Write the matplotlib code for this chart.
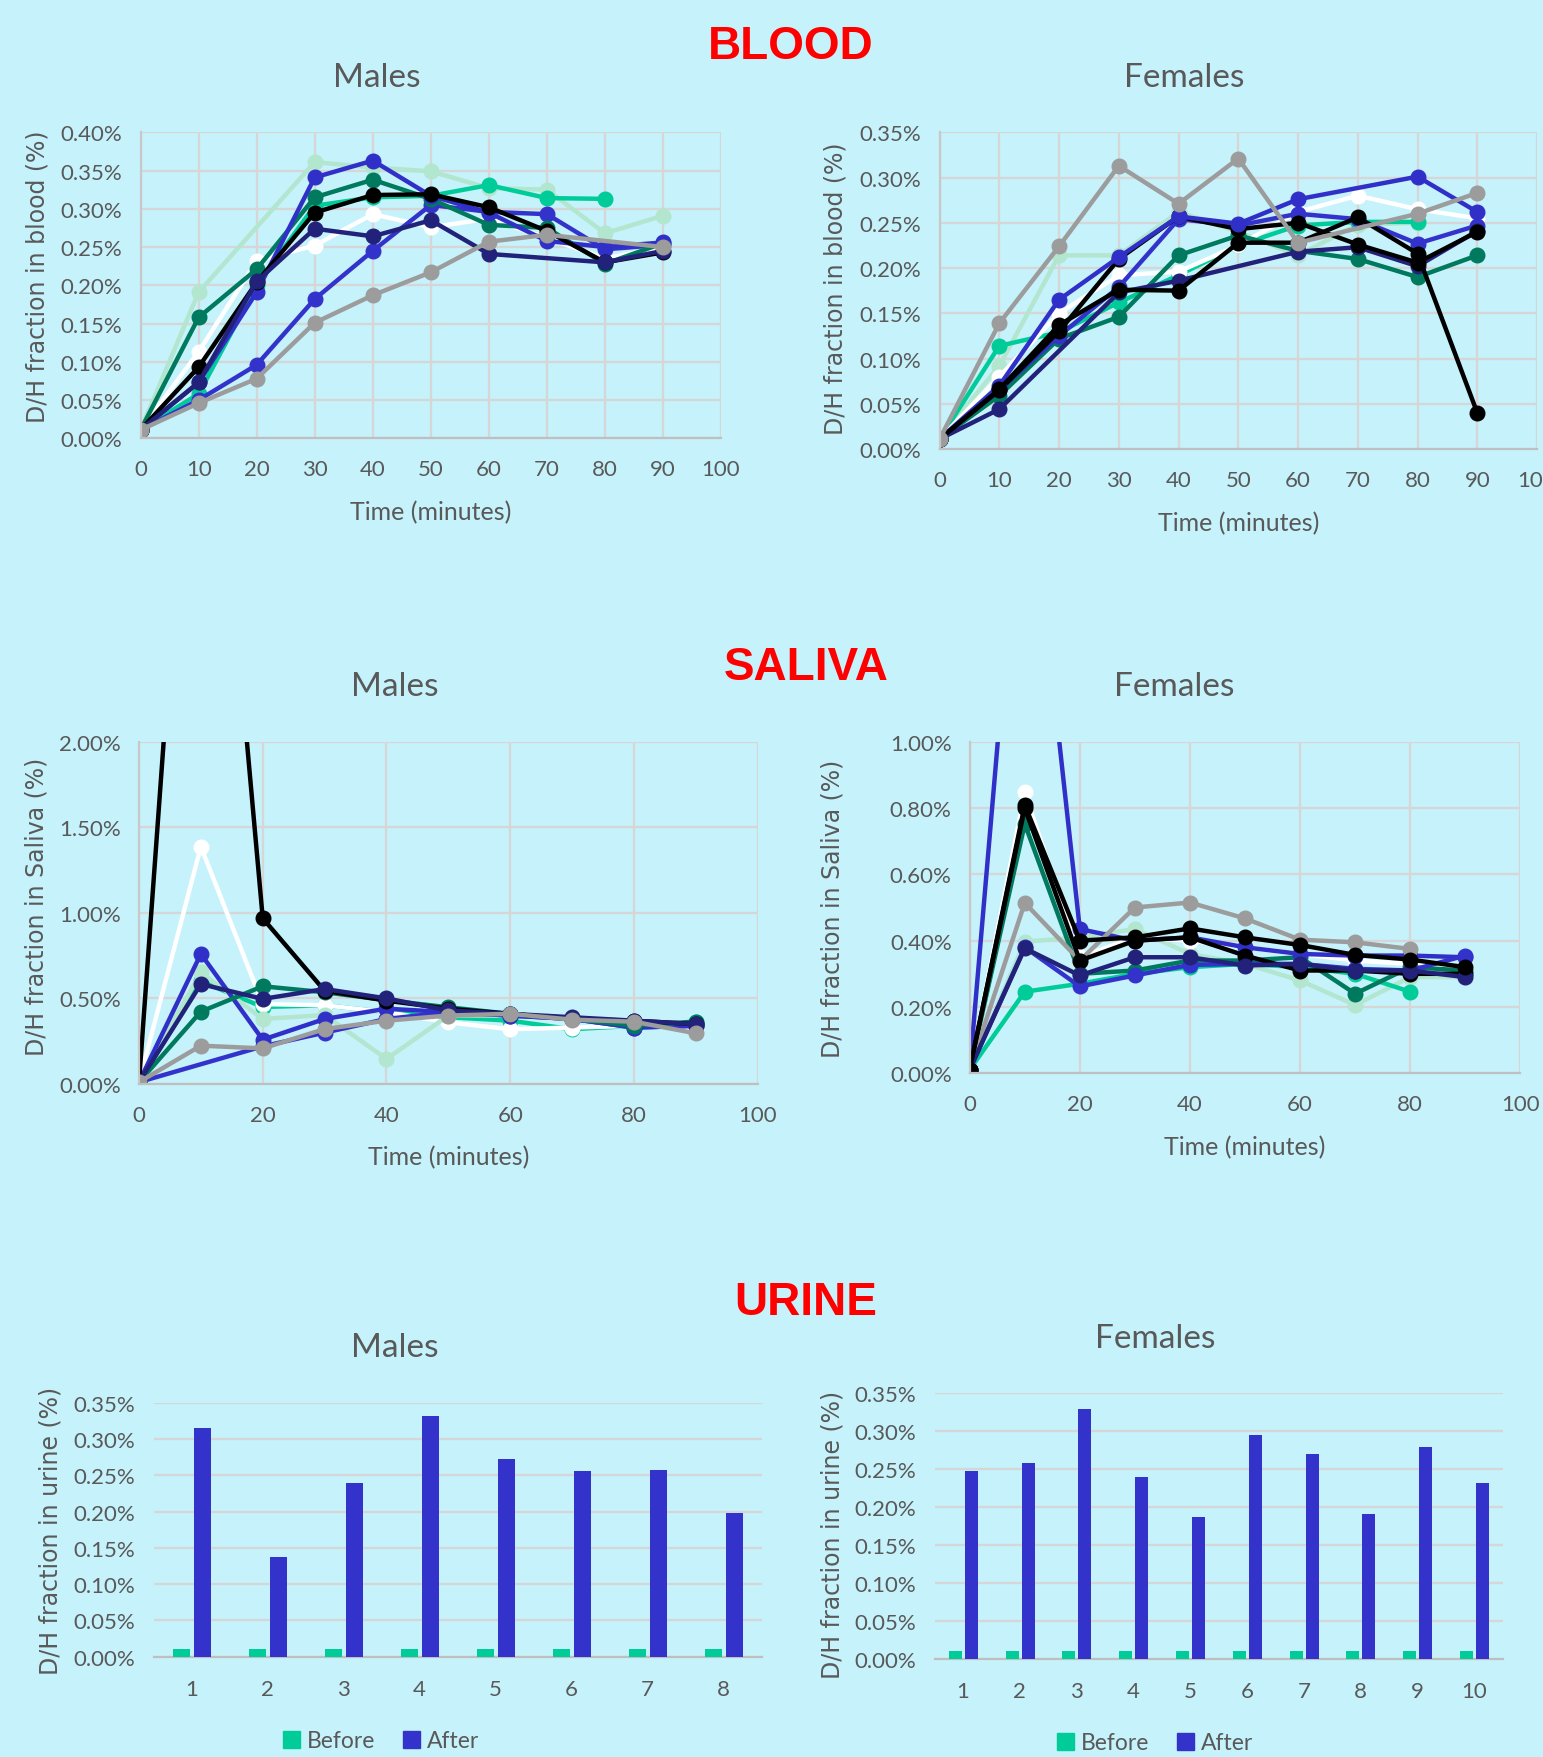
import numpy as np
import matplotlib
matplotlib.use("Agg")
import matplotlib.pyplot as plt
from matplotlib.ticker import FuncFormatter, MultipleLocator
from matplotlib.patches import Patch

# time points (minutes)
times = [0, 10, 20, 30, 40, 50, 60, 70, 80, 90]
nan = np.nan

# colours used by the subjects
c_mint = "#B2E6CF"
c_teal = "#00CC99"
c_dkgreen = "#007A5E"
c_white = "#FFFFFF"
c_blue = "#3030C8"
c_blue2 = "#3333CC"
c_navy = "#22227A"
c_black = "#000000"
c_gray = "#9C9C9C"

# blood - males (D/H %)
bm_mint = [0.011, 0.191, nan, 0.361, 0.354, 0.349, 0.327, 0.325, 0.268, 0.291]
bm_teal = [0.011, 0.058, 0.200, 0.304, 0.315, 0.317, 0.331, 0.314, 0.313, nan]
bm_white = [0.011, 0.113, 0.232, 0.252, 0.293, 0.276, 0.287, 0.262, 0.235, 0.250]
bm_blue2 = [0.011, 0.050, 0.096, 0.182, 0.245, 0.305, 0.296, 0.293, 0.247, 0.253]
bm_dkgreen = [0.011, 0.158, 0.221, 0.315, 0.338, 0.313, 0.279, 0.275, 0.228, 0.255]
bm_blue = [0.011, 0.073, 0.191, 0.341, 0.363, 0.317, 0.295, 0.258, 0.250, 0.256]
bm_black = [0.011, 0.093, 0.204, 0.295, 0.318, 0.319, 0.302, 0.271, 0.230, 0.243]
bm_navy = [0.011, 0.073, 0.205, 0.274, 0.264, 0.285, 0.241, nan, 0.230, 0.245]
bm_gray = [0.011, 0.046, 0.078, 0.151, 0.187, 0.217, 0.257, 0.266, nan, 0.250]

# blood - females
bf_mint = [0.011, 0.092, 0.214, 0.214, 0.262, 0.240, 0.214, 0.248, 0.250, nan]
bf_teal = [0.011, 0.114, 0.129, 0.162, 0.192, 0.225, 0.247, 0.251, 0.251, nan]
bf_white = [0.011, 0.080, 0.150, 0.192, 0.196, 0.225, 0.262, 0.280, 0.265, 0.255]
bf_dkgreen = [0.011, 0.059, 0.122, 0.146, 0.214, 0.236, 0.219, 0.210, 0.190, 0.214]
bf_blue2 = [0.011, 0.065, 0.125, 0.179, 0.254, 0.247, 0.260, 0.254, 0.227, 0.247]
bf_navy = [0.011, 0.044, nan, 0.173, 0.186, nan, 0.218, 0.223, 0.202, 0.241]
bf_black2 = [0.011, 0.065, 0.130, 0.210, 0.257, 0.243, 0.250, 0.226, 0.206, 0.240]
bf_blue = [0.011, 0.070, 0.165, 0.212, 0.257, 0.249, 0.276, nan, 0.301, 0.262]
bf_black = [0.011, 0.066, 0.137, 0.176, 0.175, 0.228, 0.228, 0.256, 0.216, 0.040]
bf_gray = [0.011, 0.139, 0.224, 0.313, 0.271, 0.321, 0.228, nan, 0.260, 0.283]

# saliva - males
sm_teal = [0.011, 0.600, 0.450, 0.460, 0.420, 0.390, 0.370, 0.320, 0.340, 0.360]
sm_white = [0.011, 1.387, 0.467, 0.460, 0.420, 0.360, 0.320, 0.330, 0.340, 0.330]
sm_mint = [0.011, 0.652, 0.380, 0.403, 0.146, 0.400, 0.400, 0.380, 0.360, 0.350]
sm_blue2 = [0.011, nan, 0.220, 0.300, 0.380, 0.420, 0.400, 0.380, 0.330, 0.340]
sm_blue = [0.011, 0.760, 0.259, 0.380, 0.440, 0.420, 0.400, 0.380, 0.330, 0.340]
sm_dkgreen = [0.011, 0.423, 0.571, 0.536, 0.490, 0.448, 0.410, 0.380, 0.340, 0.365]
sm_black = [0.011, 5.000, 0.968, 0.545, 0.487, 0.440, 0.410, 0.380, 0.370, 0.350]
sm_navy = [0.011, 0.584, 0.497, 0.555, 0.500, 0.430, 0.410, 0.390, 0.370, 0.350]
sm_gray = [0.011, 0.224, 0.208, 0.321, 0.370, 0.400, 0.410, 0.376, 0.364, 0.296]

# saliva - females
sf_mint = [0.011, 0.397, 0.410, 0.435, 0.360, 0.330, 0.280, 0.206, 0.290, 0.290]
sf_teal = [0.011, 0.246, 0.270, 0.300, 0.320, 0.330, 0.320, 0.300, 0.246, nan]
sf_white = [0.011, 0.847, 0.350, 0.410, 0.400, 0.380, 0.360, 0.340, 0.330, 0.320]
sf_dkgreen = [0.011, 0.752, 0.300, 0.310, 0.340, 0.340, 0.350, 0.240, 0.320, 0.310]
sf_blue = [0.011, 1.950, 0.435, 0.400, 0.410, 0.380, 0.360, 0.355, 0.355, 0.350]
sf_blue2 = [0.011, 0.380, 0.262, 0.295, 0.327, 0.330, 0.330, 0.315, 0.310, 0.355]
sf_gray = [0.011, 0.514, 0.340, 0.500, 0.515, 0.467, 0.403, 0.395, 0.375, nan]
sf_black2 = [0.011, 0.800, 0.340, 0.400, 0.410, 0.355, 0.310, 0.310, 0.300, 0.300]
sf_navy = [0.011, 0.377, 0.295, 0.350, 0.350, 0.325, 0.330, 0.310, 0.310, 0.290]
sf_black = [0.011, 0.809, 0.400, 0.410, 0.437, 0.410, 0.387, 0.357, 0.343, 0.320]

# urine - before / after per subject
um_subjects = ["1", "2", "3", "4", "5", "6", "7", "8"]
um_before = [0.011, 0.011, 0.011, 0.011, 0.011, 0.011, 0.011, 0.011]
um_after = [0.315, 0.137, 0.240, 0.331, 0.272, 0.256, 0.257, 0.198]
uf_subjects = ["1", "2", "3", "4", "5", "6", "7", "8", "9", "10"]
uf_before = [0.011] * 10
uf_after = [0.247, 0.258, 0.328, 0.239, 0.187, 0.294, 0.269, 0.191, 0.278, 0.231]

bg = "#C6F2FB"
txt = "#595959"
grid_c = "#D6D6D6"
W, H = 1543, 1758

fig = plt.figure(figsize=(W / 100, H / 100), dpi=100, facecolor=bg)


def make_ax(left, right, top, bottom):
    return fig.add_axes([left / W, 1 - bottom / H, (right - left) / W, (bottom - top) / H])


pct = FuncFormatter(lambda v, p: "{:.2f}%".format(v))


def style(ax, vgrid=True):
    ax.set_facecolor(bg)
    for s in ax.spines.values():
        s.set_visible(False)
    ax.spines["bottom"].set_visible(True)
    ax.spines["bottom"].set_color("#BFBFBF")
    ax.spines["bottom"].set_linewidth(1.6)
    ax.yaxis.grid(True, color=grid_c, lw=1.6)
    if vgrid:
        ax.xaxis.grid(True, color=grid_c, lw=1.6)
        ax.spines["left"].set_visible(True)
        ax.spines["left"].set_color("#C8C8C8")
        ax.spines["left"].set_linewidth(1.6)
    ax.set_axisbelow(True)
    ax.tick_params(length=0, labelsize=16, colors=txt, pad=15)
    ax.tick_params(axis="y", pad=13)
    for lab in ax.get_xticklabels() + ax.get_yticklabels():
        lab.set_fontfamily("Lato")
    ax.yaxis.set_major_formatter(pct)


def lines(ax, series):
    for y, c in series:
        y = np.array(y, dtype=float)
        x = np.array(times)
        ok = ~np.isnan(y)
        ax.plot(x[ok], y[ok], color=c, lw=3.2, marker="o", ms=10.5, clip_on=True)


def ylab(ax, text, x, y):
    ax.set_ylabel(text, fontsize=17, color=txt, family="DejaVu Sans", va="center")
    ax.yaxis.set_label_coords(x, y)


def labels(ax, text, xy_x, xy_y, yl_x, yl_y):
    ax.set_xlabel("Time (minutes)", fontsize=18, color=txt, family="Lato")
    ax.xaxis.set_label_coords(xy_x, xy_y)
    ylab(ax, text, yl_x, yl_y)


# BLOOD males
ax = make_ax(140.6, 721, 133.3, 439.3)
lines(ax, [(bm_mint, c_mint), (bm_teal, c_teal), (bm_white, c_white), (bm_blue2, c_blue2),
           (bm_dkgreen, c_dkgreen), (bm_blue, c_blue), (bm_black, c_black), (bm_navy, c_navy),
           (bm_gray, c_gray)])
ax.set_xlim(0, 100)
ax.set_ylim(0, 0.40)
ax.xaxis.set_major_locator(MultipleLocator(10))
ax.yaxis.set_major_locator(MultipleLocator(0.05))
style(ax)
labels(ax, "D/H fraction in blood (%)", 0.5, -0.20, -0.178, 0.53)

# BLOOD females
ax = make_ax(939.6, 1537, 133.3, 450)
lines(ax, [(bf_mint, c_mint), (bf_teal, c_teal), (bf_white, c_white), (bf_dkgreen, c_dkgreen),
           (bf_blue2, c_blue2), (bf_navy, c_navy), (bf_black2, c_black), (bf_blue, c_blue),
           (bf_black, c_black), (bf_gray, c_gray)])
ax.set_xlim(0, 100)
ax.set_ylim(0, 0.35)
ax.xaxis.set_major_locator(MultipleLocator(10))
ax.yaxis.set_major_locator(MultipleLocator(0.05))
style(ax)
labels(ax, "D/H fraction in blood (%)", 0.5, -0.195, -0.174, 0.51)

# SALIVA males
ax = make_ax(139, 757.7, 742.7, 1085)
lines(ax, [(sm_teal, c_teal), (sm_white, c_white), (sm_mint, c_mint), (sm_blue2, c_blue2),
           (sm_blue, c_blue), (sm_dkgreen, c_dkgreen), (sm_black, c_black), (sm_navy, c_navy),
           (sm_gray, c_gray)])
ax.set_xlim(0, 100)
ax.set_ylim(0, 2.0)
ax.xaxis.set_major_locator(MultipleLocator(20))
ax.yaxis.set_major_locator(MultipleLocator(0.5))
style(ax)
labels(ax, "D/H fraction in Saliva (%)", 0.5, -0.178, -0.165, 0.52)

# SALIVA females
ax = make_ax(969.7, 1520.3, 742.7, 1074.3)
lines(ax, [(sf_mint, c_mint), (sf_teal, c_teal), (sf_white, c_white), (sf_dkgreen, c_dkgreen),
           (sf_blue, c_blue), (sf_blue2, c_blue2), (sf_gray, c_gray), (sf_black2, c_black),
           (sf_navy, c_navy), (sf_black, c_black)])
ax.set_xlim(0, 100)
ax.set_ylim(0, 1.0)
ax.xaxis.set_major_locator(MultipleLocator(20))
ax.yaxis.set_major_locator(MultipleLocator(0.2))
style(ax)
labels(ax, "D/H fraction in Saliva (%)", 0.5, -0.185, -0.25, 0.50)


# URINE
def bars(ax, subjects, before, after, yl_x, yl_y):
    x = np.arange(1, len(subjects) + 1)
    ax.bar(x - 0.135, before, width=0.23, color=c_teal, zorder=3)
    ax.bar(x + 0.145, after, width=0.23, color=c_blue2, zorder=3)
    ax.set_xlim(0.5, len(subjects) + 0.5)
    ax.set_ylim(0, 0.35)
    ax.set_xticks(x)
    ax.set_xticklabels(subjects)
    ax.yaxis.set_major_locator(MultipleLocator(0.05))
    style(ax, vgrid=False)
    ax.tick_params(axis="x", pad=16)
    ylab(ax, "D/H fraction in urine (%)", yl_x, yl_y)


ax = make_ax(153.5, 761.5, 1403.7, 1657.7)
bars(ax, um_subjects, um_before, um_after, -0.169, 0.5)
ax = make_ax(934.6, 1502.6, 1393.7, 1660)
bars(ax, uf_subjects, uf_before, uf_after, -0.18, 0.47)

handles = [Patch(color=c_teal), Patch(color=c_blue2)]
for cx, cy in [(381, 1742), (1155, 1744)]:
    fig.legend(handles, ["Before", "After"], loc="center", bbox_to_anchor=(cx / W, 1 - cy / H),
               ncol=2, frameon=False, handlelength=0.75, handleheight=0.75, handletextpad=0.3,
               columnspacing=1.2, prop={"family": "Lato", "size": 16.5}, labelcolor=txt)

# section titles and panel titles
for t, x, y in [("BLOOD", 791, 47), ("SALIVA", 806, 668), ("URINE", 806, 1303)]:
    fig.text(x / W, 1 - y / H, t, color="#FF0000", fontsize=33, fontweight="bold",
             family="Liberation Sans", ha="center", va="center")
for t, x, y in [("Males", 377, 78), ("Females", 1184, 78), ("Males", 395, 687),
                ("Females", 1174, 687), ("Males", 395, 1348), ("Females", 1155, 1339)]:
    fig.text(x / W, 1 - y / H, t, color=txt, fontsize=24, family="Lato", ha="center", va="center")

fig.savefig("out.png", dpi=100, facecolor=bg)
